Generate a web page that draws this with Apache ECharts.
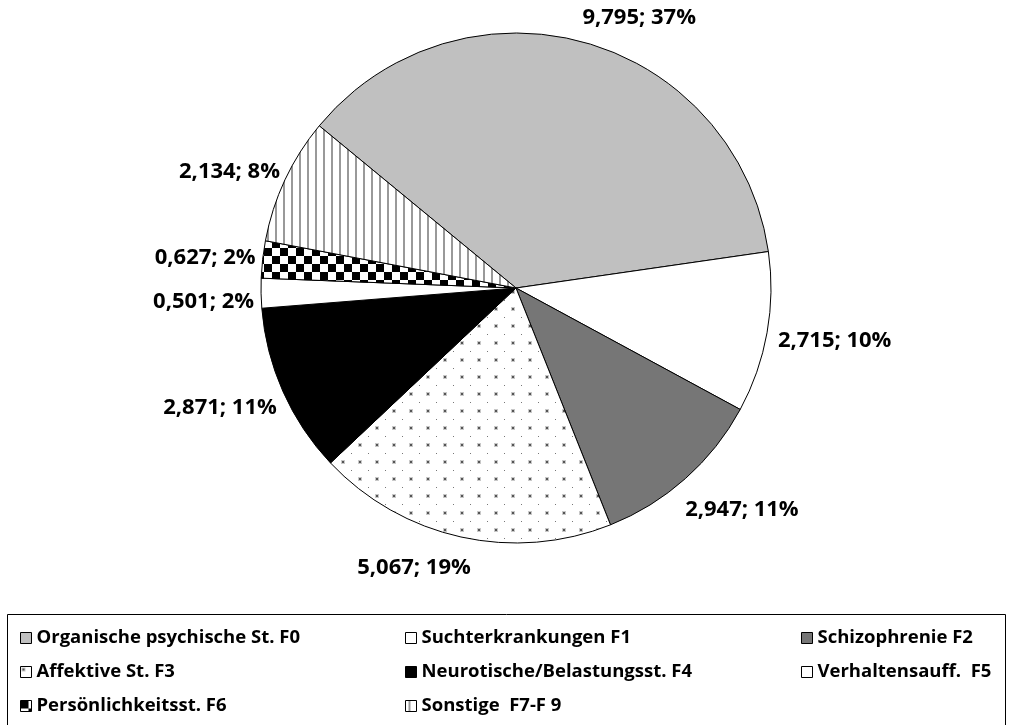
<!DOCTYPE html>
<html>
<head>
<meta charset="utf-8">
<script src="https://cdn.jsdelivr.net/npm/echarts@6/dist/echarts.min.js"></script>
<style>
  html, body { margin: 0; padding: 0; background: #fff; }
  #chart { width: 1010px; height: 725px; }
</style>
</head>
<body>
<div id="chart"></div>
<script>
// Diagnosis groups (ICD-10 F chapters) and their values
const categories = [
  'Organische psychische St. F0',
  'Suchterkrankungen F1',
  'Schizophrenie F2',
  'Affektive St. F3',
  'Neurotische/Belastungsst. F4',
  'Verhaltensauff.  F5',
  'Persönlichkeitsst. F6',
  'Sonstige  F7-F 9'
];
const values = [9.795, 2.715, 2.947, 5.067, 2.871, 0.501, 0.627, 2.134];

// Legend columns (read row by row across three columns)
const legendColumns = [
  [categories[0], categories[3], categories[6]],
  [categories[1], categories[4], categories[7]],
  [categories[2], categories[5]]
];

// --- fill patterns ---------------------------------------------------------
function makeCanvas(w, h, draw) {
  const c = document.createElement('canvas');
  c.width = w; c.height = h;
  const ctx = c.getContext('2d');
  ctx.fillStyle = '#ffffff';
  ctx.fillRect(0, 0, w, h);
  draw(ctx);
  return c;
}
const dotTile = makeCanvas(17, 17, ctx => {
  ctx.fillStyle = '#c8c8c8';
  ctx.fillRect(1, 1, 4, 4);
  ctx.fillStyle = '#555';
  ctx.fillRect(2, 2, 2, 2);
  ctx.fillStyle = '#777';
  ctx.fillRect(11, 11, 1, 1);
});
const checkerTile = makeCanvas(16, 16, ctx => {
  ctx.fillStyle = '#000';
  ctx.fillRect(0, 0, 8, 8);
  ctx.fillRect(8, 8, 8, 8);
});
const stripeTile = makeCanvas(8, 8, ctx => {
  ctx.fillStyle = '#999';
  ctx.fillRect(3, 0, 2, 8);
});
const pattern = img => ({ image: img, repeat: 'repeat' });

const fills = [
  '#c0c0c0',
  '#ffffff',
  '#767676',
  pattern(dotTile),
  '#000000',
  '#ffffff',
  pattern(checkerTile),
  pattern(stripeTile)
];

// small per-label shifts away from the default outside placement
const labelShift = [
  [-10, -15], [-4, 6], [-12, 24], [17, 21],
  [8, 12], [8, 8], [8, -1], [9, -4]
];

const FONT = '"Open Sans", "Noto Sans", sans-serif';

const seriesData = categories.map((name, i) => ({
  name: name,
  value: values[i],
  itemStyle: { color: fills[i] }
}));

const legendBase = {
  orient: 'vertical',
  top: 628,
  padding: 0,
  itemWidth: 11,
  itemHeight: 11,
  itemGap: 14,
  icon: 'rect',
  selectedMode: false,
  itemStyle: { borderColor: '#000', borderWidth: 1 },
  textStyle: {
    fontFamily: FONT, fontWeight: 'bold', fontSize: 18.5,
    lineHeight: 20, color: '#000'
  }
};

const option = {
  backgroundColor: '#ffffff',
  animation: false,
  legend: [
    Object.assign({}, legendBase, { left: 20, data: legendColumns[0] }),
    Object.assign({}, legendBase, { left: 405, data: legendColumns[1] }),
    Object.assign({}, legendBase, { left: 801, data: legendColumns[2] })
  ],
  graphic: [{
    type: 'rect',
    shape: { x: 7.5, y: 614.5, width: 998, height: 200 },
    style: { fill: 'none', stroke: '#000', lineWidth: 1 },
    silent: true,
    z: -1
  }],
  series: [{
    type: 'pie',
    center: [516, 288],
    radius: 255,
    startAngle: 140.5,
    clockwise: true,
    avoidLabelOverlap: false,
    itemStyle: { borderColor: '#000', borderWidth: 1 },
    label: {
      show: true,
      position: 'outside',
      fontFamily: FONT,
      fontWeight: 'bold',
      fontSize: 22,
      color: '#000',
      formatter: p => p.value.toFixed(3).replace('.', ',') + '; ' + Math.round(p.percent) + '%'
    },
    labelLine: { show: false, length: 10, length2: 0 },
    labelLayout: p => ({ dx: labelShift[p.dataIndex][0], dy: labelShift[p.dataIndex][1] }),
    emphasis: { disabled: true },
    data: seriesData
  }]
};

const chart = echarts.init(document.getElementById('chart'), null, { renderer: 'canvas' });
chart.setOption(option);
</script>
</body>
</html>
